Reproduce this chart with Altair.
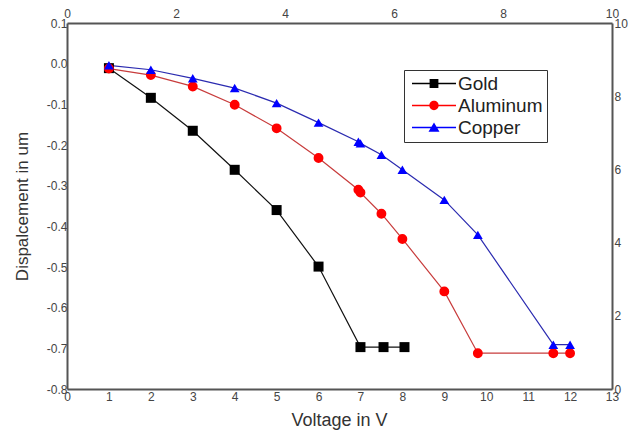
import altair as alt
import pandas as pd

series_names = ["Gold", "Aluminum", "Copper"]

gold_v = [1, 2, 3, 4, 5, 6, 7, 7.55, 8.05]
gold_d = [-0.011, -0.084, -0.165, -0.261, -0.36, -0.499, -0.697, -0.697, -0.697]

alu_v = [1, 2, 3, 4, 5, 6, 6.95, 7.0, 7.5, 8.0, 9.0, 9.8, 11.6, 12.0]
alu_d = [-0.012, -0.028, -0.056, -0.101, -0.159, -0.232, -0.31, -0.317, -0.369,
         -0.431, -0.56, -0.712, -0.712, -0.712]

cu_v = [1, 2, 3, 4, 5, 6, 6.95, 7.0, 7.5, 8.0, 9.0, 9.8, 11.6, 12.0]
cu_d = [-0.004, -0.015, -0.036, -0.06, -0.097, -0.145, -0.192, -0.196, -0.224,
        -0.261, -0.335, -0.421, -0.691, -0.691]

x_ticks = list(range(0, 14))
y_ticks = [0.1, 0.0, -0.1, -0.2, -0.3, -0.4, -0.5, -0.6, -0.7, -0.8]
top_ticks = [0, 2, 4, 6, 8, 10]
right_ticks = [0, 2, 4, 6, 8, 10]

line_colors = ["#111111", "#c83c3c", "#2b2bb0"]
marker_colors = ["#000000", "#ff0000", "#0000ff"]
marker_shapes = ["square", "circle", "triangle-up"]
marker_sizes = [100, 95, 130]
legend_paths = [
    "M-1,-0.12H7V0.12H-1Z M2.2,-0.8H3.8V0.8H2.2Z",
    "M-1,-0.12H7V0.12H-1Z M3.85,0A0.85,0.85 0 1,1 2.15,0A0.85,0.85 0 1,1 3.85,0Z",
    "M-1,-0.12H7V0.12H-1Z M3,-0.9L4,0.75H2Z",
]

rows = []
for name, vs, ds in [("Gold", gold_v, gold_d), ("Aluminum", alu_v, alu_d), ("Copper", cu_v, cu_d)]:
    for i, (v, d) in enumerate(zip(vs, ds)):
        rows.append({"series": name, "voltage": v, "disp": d, "idx": i})
df = pd.DataFrame(rows)

FONT = "Liberation Sans"
AX = "#555555"

x_enc = alt.X(
    "voltage:Q",
    scale=alt.Scale(domain=[0, 13], nice=False, zero=False),
    axis=alt.Axis(
        title="Voltage in V", values=x_ticks, format="d", grid=False,
        ticks=False, tickSize=0, labelPadding=2, labelFlush=False,
        labelOverlap=False, labelFontSize=12, labelFont=FONT, labelColor="#444444",
        domainColor=AX, domainWidth=2,
        titleFont=FONT, titleFontSize=18, titleFontWeight="normal", titleColor="#333333",
        titleX=272, titleY=31, titleBaseline="middle", titleAlign="center",
    ),
)
y_enc = alt.Y(
    "disp:Q",
    scale=alt.Scale(domain=[-0.8, 0.1], nice=False, zero=False),
    axis=alt.Axis(
        title="Dispalcement in um", values=y_ticks,
        labelExpr="replace(format(datum.value, '.1f'), '\u2212', '-')",
        grid=False, ticks=False, tickSize=0, labelPadding=0, labelFlush=False,
        labelOverlap=False, labelFontSize=12, labelFont=FONT, labelColor="#444444",
        domainColor=AX, domainWidth=2,
        titleFont=FONT, titleFontSize=17, titleFontWeight="normal", titleColor="#333333",
        titleX=-45, titleY=183, titleAngle=-90, titleBaseline="middle", titleAlign="center",
    ),
)

lines = alt.Chart(df).mark_line(strokeWidth=1.2).encode(
    x=x_enc, y=y_enc,
    color=alt.Color("series:N", scale=alt.Scale(domain=series_names, range=line_colors), legend=None),
    detail="series:N",
    order="idx:Q",
)

points = alt.Chart(df).mark_point(filled=True, opacity=1).encode(
    x="voltage:Q", y="disp:Q",
    color=alt.Color("series:N", scale=alt.Scale(domain=series_names, range=marker_colors), legend=None),
    shape=alt.Shape("series:N", scale=alt.Scale(domain=series_names, range=marker_shapes), legend=None),
    size=alt.Size("series:N", scale=alt.Scale(domain=series_names, range=marker_sizes), legend=None),
)

leg = alt.Legend(
    title=None, orient="none", legendX=337, legendY=47,
    strokeColor="#333333", fillColor="white", padding=4, rowPadding=2,
    symbolSize=121, symbolStrokeWidth=0, symbolOpacity=1, labelOffset=31,
    labelFont=FONT, labelFontSize=19, labelColor="#222222", labelLimit=300,
)
legend_layer = alt.Chart(df).mark_point(filled=True, clip=True).encode(
    x=alt.value(-60), y=alt.value(-60),
    color=alt.Color("series:N", scale=alt.Scale(domain=series_names, range=marker_colors), legend=leg),
    shape=alt.Shape("series:N", scale=alt.Scale(domain=series_names, range=legend_paths), legend=leg),
)

main = alt.layer(lines, points, legend_layer).resolve_scale(
    color="independent", shape="independent", size="independent")

dummy_df = pd.DataFrame({"t": [0, 10], "r": [0, 10]})
dummy = alt.Chart(dummy_df).mark_point(opacity=0).encode(
    x=alt.X("t:Q", scale=alt.Scale(domain=[0, 10], nice=False),
            axis=alt.Axis(orient="top", title=None, values=top_ticks, grid=False,
                          ticks=False, tickSize=0, labelPadding=3, labelFlush=False,
                          labelOverlap=False, labelFontSize=12, labelFont=FONT,
                          labelColor="#444444", domainColor=AX, domainWidth=2)),
    y=alt.Y("r:Q", scale=alt.Scale(domain=[0, 10], nice=False),
            axis=alt.Axis(orient="right", title=None, values=right_ticks, grid=False,
                          ticks=False, tickSize=0, labelPadding=2, labelFlush=False,
                          labelOverlap=False, labelFontSize=12, labelFont=FONT,
                          labelColor="#444444", domainColor=AX, domainWidth=2)),
)

chart = alt.layer(main, dummy).resolve_scale(x="independent", y="independent").properties(
    width=545, height=366,
    autosize=alt.AutoSizeParams(type="none"),
    padding={"left": 67, "top": 23, "right": 26, "bottom": 44},
    background="white",
).configure_view(stroke=None)

chart.save("out.html", embed_options={"renderer": "svg", "actions": False})
